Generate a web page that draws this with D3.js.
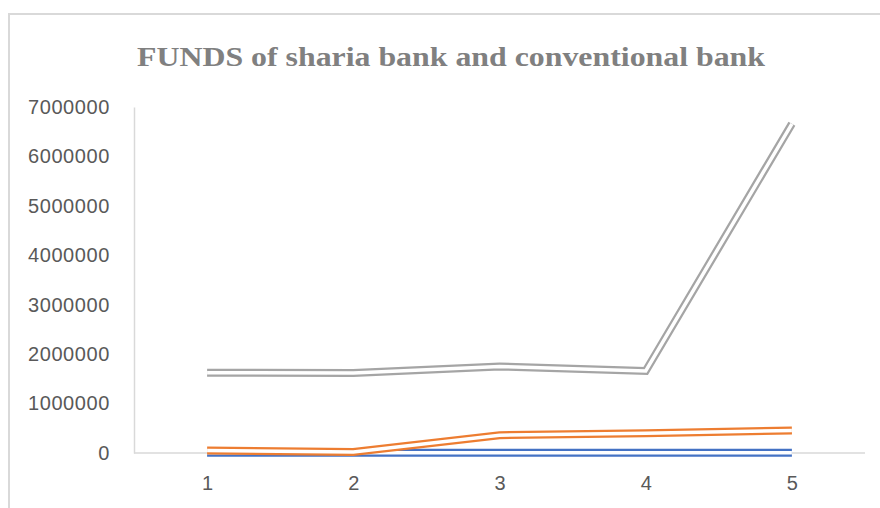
<!DOCTYPE html>
<html>
<head>
<meta charset="utf-8">
<script src="https://cdn.jsdelivr.net/npm/d3@7"></script>
<style>
  body { margin: 0; background: #fff; }
  svg { display: block; }
</style>
</head>
<body>
<svg id="chart" width="880" height="508"></svg>
<script>
// data
const categories = ['1', '2', '3', '4', '5'];
const blueValues = [5000, 5000, 5000, 5000, 5000];
const orangeValues = [50000, 20000, 360000, 400000, 455000];
const grayValues = [1625000, 1620000, 1750000, 1660000, 6660000];
const yTicks = [0, 1000000, 2000000, 3000000, 4000000, 5000000, 6000000, 7000000];

const series = [
  { name: 'blue', values: blueValues, color: '#4472c4' },
  { name: 'orange', values: orangeValues, color: '#ed7d31' },
  { name: 'gray', values: grayValues, color: '#a5a5a5' }
];

const margin = { top: 107, right: 15, bottom: 55, left: 134 };
const width = 880, height = 508;

const svg = d3.select('#chart');

// chart frame (runs off the right and bottom edges)
svg.append('rect')
  .attr('x', 9).attr('y', 14)
  .attr('width', 900).attr('height', 520)
  .attr('fill', '#fff')
  .attr('stroke', '#d9d9d9')
  .attr('stroke-width', 2);

svg.append('text')
  .attr('x', 137).attr('y', 66)
  .attr('textLength', 628)
  .attr('lengthAdjust', 'spacingAndGlyphs')
  .attr('font-family', '"Liberation Serif", "DejaVu Serif", serif')
  .attr('font-weight', 'bold')
  .attr('font-size', 28)
  .attr('fill', '#808080')
  .text('FUNDS of sharia bank and conventional bank');

const x = d3.scalePoint()
  .domain(categories)
  .range([margin.left, width - margin.right])
  .padding(0.5);

const y = d3.scaleLinear()
  .domain([0, 7000000])
  .range([height - margin.bottom, margin.top]);

// y axis (labels + light vertical line)
const yAxis = svg.append('g')
  .attr('transform', `translate(${margin.left},0)`)
  .call(d3.axisLeft(y).tickValues(yTicks).tickSize(0).tickPadding(24).tickFormat(d3.format('d')));
yAxis.select('.domain').attr('stroke', '#d9d9d9').attr('stroke-width', 1.5);
yAxis.selectAll('text')
  .attr('font-family', '"Liberation Sans", Arial, sans-serif')
  .attr('font-size', 20)
  .attr('letter-spacing', 0.6)
  .attr('fill', '#595959');

// x axis
const xAxis = svg.append('g')
  .attr('transform', `translate(0,${y(0)})`)
  .call(d3.axisBottom(x).tickSize(0).tickPadding(23));
xAxis.select('.domain')
  .attr('d', `M${margin.left},0H${width - margin.right}`)
  .attr('stroke', '#d9d9d9').attr('stroke-width', 1.5);
xAxis.selectAll('text')
  .attr('font-family', '"Liberation Sans", Arial, sans-serif')
  .attr('font-size', 20)
  .attr('fill', '#595959');

const line = d3.line()
  .x((d, i) => x(categories[i]))
  .y(d => y(d));

// compound "double" lines: thick coloured stroke with a white core
const lines = svg.append('g');
series.forEach(s => {
  lines.append('path')
    .attr('d', line(s.values))
    .attr('fill', 'none')
    .attr('stroke', s.color)
    .attr('stroke-width', 8);
  lines.append('path')
    .attr('d', line(s.values))
    .attr('fill', 'none')
    .attr('stroke', '#fff')
    .attr('stroke-width', 3.5);
});
</script>
</body>
</html>
